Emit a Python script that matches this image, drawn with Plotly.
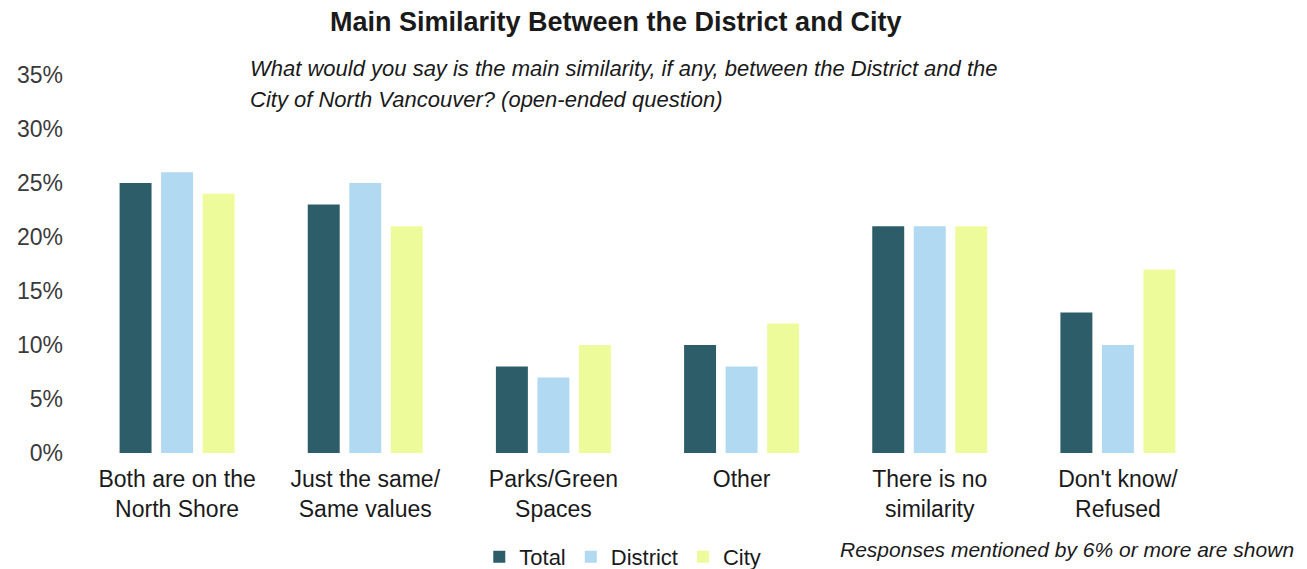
import plotly.graph_objects as go

categories = ["Both are on the<br>North Shore", "Just the same/<br>Same values", "Parks/Green<br>Spaces",
              "Other", "There is no<br>similarity", "Don't know/<br>Refused"]
total = [25, 23, 8, 10, 21, 13]
district = [26, 25, 7, 8, 21, 10]
city = [24, 21, 10, 12, 21, 17]
y_ticks = [0, 5, 10, 15, 20, 25, 30, 35]
y_tick_labels = [f"{v}%" for v in y_ticks]

FONT = "Arial, Liberation Sans, sans-serif"
fig = go.Figure()
for name, vals, color in [("Total", total, "#2e5d6a"), ("District", district, "#b2d9f2"), ("City", city, "#eefb9a")]:
    fig.add_trace(go.Bar(name=name, x=categories, y=vals, marker=dict(color=color, line=dict(width=0))))

fig.update_layout(
    width=1299, height=561,
    barmode="group", bargap=0.338, bargroupgap=0.23,
    plot_bgcolor="white", paper_bgcolor="white",
    margin=dict(l=75, r=95, t=67, b=116, autoexpand=False),
    font=dict(family=FONT, color="#262626"),
    showlegend=True,
    legend=dict(orientation="h", x=0.351, y=-0.275, xanchor="left", yanchor="middle",
                font=dict(size=22, color="#1a1a1a"), itemwidth=30, tracegroupgap=0),
    xaxis=dict(showline=False, showgrid=False, ticks="", ticklabelstandoff=10,
               tickfont=dict(size=23, color="#1a1a1a")),
    yaxis=dict(range=[0, 35], tickvals=y_ticks, ticktext=y_tick_labels, showgrid=False, showline=False,
               zeroline=False, ticks="", ticklabelstandoff=19, tickfont=dict(size=23, color="#3a3a3a")),
    annotations=[
        dict(text="<b>Main Similarity Between the District and City</b>", x=0.472, y=1.14, xref="paper", yref="paper",
             showarrow=False, xanchor="center", yanchor="middle", font=dict(size=27, color="#1a1a1a")),
        dict(text="<i>What would you say is the main similarity, if any, between the District and the</i>",
             x=0.146, y=1.0185, xref="paper", yref="paper", showarrow=False, xanchor="left", yanchor="middle",
             font=dict(size=22, color="#1a1a1a")),
        dict(text="<i>City of North Vancouver? (open-ended question)</i>",
             x=0.146, y=0.9365, xref="paper", yref="paper", showarrow=False, xanchor="left", yanchor="middle",
             font=dict(size=22, color="#1a1a1a")),
        dict(text="<i>Responses mentioned by 6% or more are shown</i>",
             x=1.074, y=-0.2566, xref="paper", yref="paper", showarrow=False, xanchor="right", yanchor="middle",
             font=dict(size=21, color="#1a1a1a")),
    ],
)
fig.write_html("out.html")
